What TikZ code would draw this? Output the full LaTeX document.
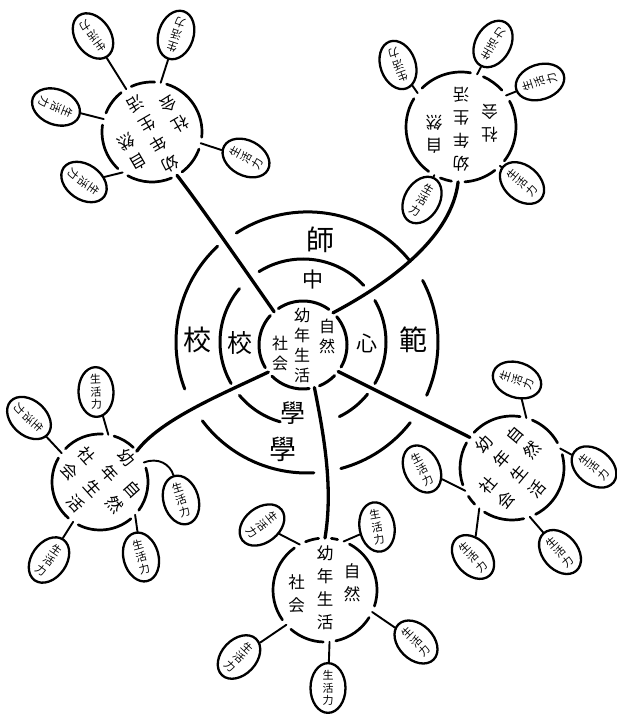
\documentclass[tikz,border=0pt]{standalone}
\usepackage{fontspec}
\newfontfamily\cjk{Noto Sans CJK JP}
\usetikzlibrary{shapes.geometric}
\tikzset{
  ringline/.style={line width=3pt, line cap=round},
  hubline/.style={line width=2.7pt, line cap=round},
  trunk/.style={line width=3.3pt, line cap=round},
  twig/.style={line width=1.9pt, line cap=round},
  hub/.style={circle, inner sep=0pt, outer sep=0pt, minimum size=#1},
  leaf/.style={ellipse, draw, line width=2.3pt, minimum width=35pt, minimum height=48pt,
    inner sep=0pt, align=center, font=\cjk\fontsize{11}{12.5}\selectfont},
  coltext/.style={align=center, inner sep=0pt, font=\cjk\fontsize{16.5}{23}\selectfont},
  ctext/.style={align=center, inner sep=0pt, font=\cjk\fontsize{16}{20}\selectfont},
  ringlabel/.style={inner sep=0pt, font=\cjk\fontsize{#1}{#1}\selectfont},
}
\newcommand{\brokenring}[4]{%
  \foreach \a/\b in {#4} {\draw[#3] (#1.\a) arc[start angle=\a, end angle=\b, radius=#2];}}
\newcommand{\satText}[4]{%
  \begin{scope}[shift={(#2,#3)}, rotate=#4, transform shape]
    \node[coltext] (#1m) at (0,-2) {幼\\年\\生\\活};
    \node[coltext] (#1r) at (27,-7.5) {自\\然};
    \node[coltext] (#1l) at (-28.5,4) {社\\会};
  \end{scope}}
\begin{document}
\begin{tikzpicture}[x=1pt,y=-1pt]
\path[fill=white] (0,0) rectangle (617,714);
\useasboundingbox (0,0) rectangle (617,714);

% hubs and rings
\node[hub=88pt] (core) at (303,345) {};
\node[hub=166pt] (ringM) at (303,342) {};
\node[hub=262pt] (ringO) at (307,342) {};
\node[hub=100pt] (sA) at (152,132) {};
\node[hub=110pt] (sB) at (461,127) {};
\node[hub=96pt] (sC) at (100,482) {};
\node[hub=104pt] (sD) at (325,590) {};
\node[hub=104pt] (sE) at (512,468) {};

\brokenring{core}{44pt}{ringline}{292/316, 330/400, 54/124, 138/211, 225/278}
\brokenring{ringM}{83pt}{ringline}{43/122, 140/210, 220/254, 296/321, 330/390}
\brokenring{ringO}{131pt}{ringline}{38.5/123, 133/201, 217/273, 285/322, 336/388}
\brokenring{sA}{50pt}{hubline}{87/114.5, 128.5/158, 172/227, 241/293, 307/340, 354/433}
\brokenring{sB}{55pt}{hubline}{42/66, 80/135, 149/234, 248/260, 274/308, 322/388}
\brokenring{sC}{48pt}{hubline}{324/377, 46/73, 87/136, 150/229, 243/310}
\brokenring{sD}{52pt}{hubline}{282/328, 342/422, 76/83, 97/112, 126/215, 229/268}
\brokenring{sE}{52pt}{hubline}{297/375, 29/67, 81/137, 151/199, 213/224, 238/283}

% ring labels
\node[ringlabel=28] (shi) at (320,240) {師};
\node[ringlabel=21] (chu) at (313,280) {中};
\node[ringlabel=21] (shin) at (367,343) {心};
\node[ringlabel=28] (han) at (413,340) {範};
\node[ringlabel=28] (koO) at (197,340) {校};
\node[ringlabel=25] (koI) at (240,343) {校};
\node[ringlabel=25] (gakuI) at (293,413) {學};
\node[ringlabel=27] (gakuO) at (283,449) {學};

% center text
\node[ctext] (cm) at (302,345) {幼\\年\\生\\活};
\node[ctext] (cr) at (327,336) {自\\然};
\node[ctext] (cl) at (280,353) {社\\会};

% satellite texts
\satText{tA}{152}{132}{210}
\satText{tB}{461}{127}{180}
\satText{tC}{100}{482}{-48}
\satText{tD}{325}{590}{0}
\satText{tE}{512}{468}{50}

% trunks
\draw[trunk] (core.131) .. controls (245,270) and (200,205) .. (sA.300);
\draw[trunk] (core.47) .. controls (395,280) and (452,235) .. (sB.267);
\draw[trunk] (core.323) -- (sE.144);
\draw[trunk] (core.285) .. controls (325,440) and (333,490) .. (sD.90);
\draw[trunk] (core.218) .. controls (220,395) and (160,420) .. (sC.40);

% leaves
\node[leaf, rotate=215] (a1) at (93,36) {生\\活\\力};
\node[leaf, rotate=162] (a2) at (176,35) {生\\活\\力};
\node[leaf, rotate=248] (a3) at (56,107) {生\\活\\力};
\node[leaf, rotate=235] (a4) at (84,182) {生\\活\\力};
\node[leaf, rotate=62] (a5) at (246,158) {生\\活\\力};
\node[leaf, rotate=200] (b1) at (398,65) {生\\活\\力};
\node[leaf, rotate=150] (b2) at (493,44) {生\\活\\力};
\node[leaf, rotate=108] (b3) at (540,82) {生\\活\\力};
\node[leaf, rotate=50] (b4) at (522,183) {生\\活\\力};
\node[leaf, rotate=-30] (b5) at (422,200) {生\\活\\力};
\node[leaf, rotate=2] (c1) at (96,392) {生\\活\\力};
\node[leaf, rotate=228] (c2) at (29,418) {生\\活\\力};
\node[leaf, rotate=17] (c3) at (181,500) {生\\活\\力};
\node[leaf, rotate=15] (c4) at (141,557) {生\\活\\力};
\node[leaf, rotate=-35] (c5) at (49,560) {生\\活\\力};
\node[leaf, rotate=-52] (d1) at (262,525) {生\\活\\力};
\node[leaf, rotate=10] (d2) at (377,527) {生\\活\\力};
\node[leaf, rotate=45] (d3) at (416,642) {生\\活\\力};
\node[leaf, rotate=-43] (d4) at (239,657) {生\\活\\力};
\node[leaf, rotate=0] (d5) at (328,688) {生\\活\\力};
\node[leaf, rotate=71] (e1) at (517,380) {生\\活\\力};
\node[leaf, rotate=52] (e2) at (594,467) {生\\活\\力};
\node[leaf, rotate=41] (e3) at (560,552) {生\\活\\力};
\node[leaf, rotate=42] (e4) at (473,557) {生\\活\\力};
\node[leaf, rotate=27] (e5) at (422,469) {生\\活\\力};

% twigs
\draw[twig] (sA.121.5) -- (a1);
\draw[twig] (sA.80) -- (a2);
\draw[twig] (sA.165) -- (a3);
\draw[twig] (sA.234) -- (a4);
\draw[twig] (sA.347) -- (a5);
\draw[twig] (sB.142) -- (b1);
\draw[twig] (sB.73) -- (b2);
\draw[twig] (sB.35) -- (b3);
\draw[twig] (sB.315) -- (b4);
\draw[twig] (sB.241) -- (b5);
\draw[twig] (sC.80) -- (c1);
\draw[twig] (sC.143) -- (c2);
\draw[twig] (sC.24) .. controls (158,457) and (170,464) .. (c3.north);
\draw[twig] (sC.317) -- (c4);
\draw[twig] (sC.236) -- (c5);
\draw[twig] (sD.119) -- (d1);
\draw[twig] (sD.69) -- (d2);
\draw[twig] (sD.335) -- (d3);
\draw[twig] (sD.222) -- (d4);
\draw[twig] (sD.275) -- (d5);
\draw[twig] (sE.74) -- (e1);
\draw[twig] (sE.22) -- (e2);
\draw[twig] (sE.290) -- (e3);
\draw[twig] (sE.231) -- (e4);
\draw[twig] (sE.206) -- (e5);
\end{tikzpicture}
\end{document}
